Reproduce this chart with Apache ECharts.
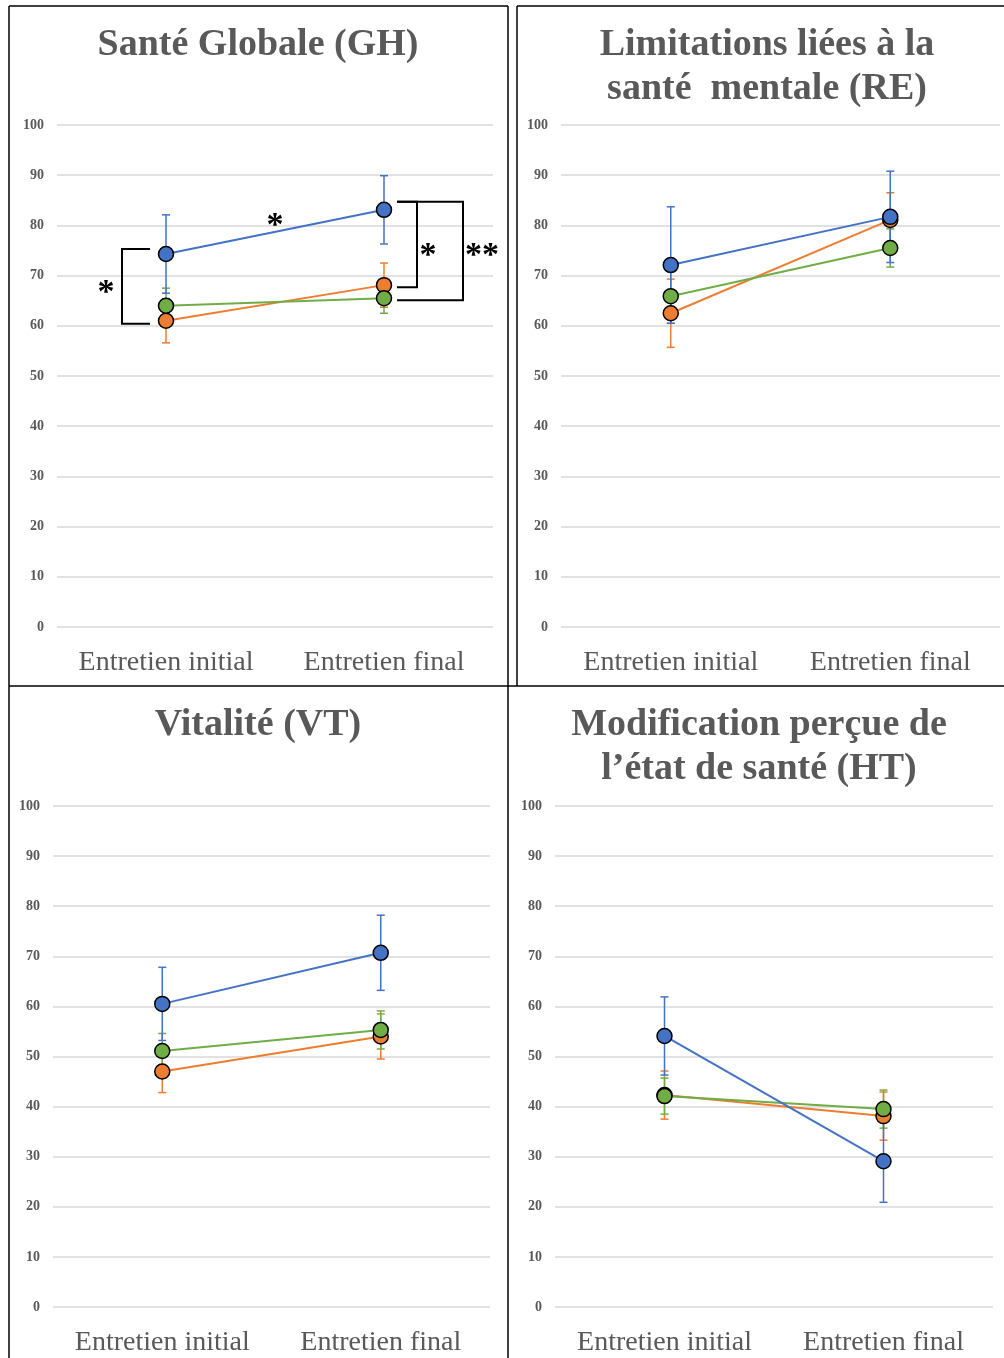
<!DOCTYPE html>
<html>
<head>
<meta charset="utf-8">
<style>
  html, body { margin: 0; padding: 0; background: #ffffff; }
  #chart { width: 1004px; height: 1358px; }
</style>
<script src="https://cdn.jsdelivr.net/npm/echarts@6/dist/echarts.min.js"></script>
</head>
<body>
<div id="chart"></div>
<script>
// ---------- DATA ----------
const categories = ['Entretien initial', 'Entretien final'];
const yTicks = [0, 10, 20, 30, 40, 50, 60, 70, 80, 90, 100];

const titles = [
  'Santé Globale (GH)',
  'Limitations liées à la\nsanté  mentale (RE)',
  'Vitalité (VT)',
  'Modification perçue de\nl\u2019état de santé (HT)'
];

// Panel 1 : GH
const ghBlue = [74.3, 83.1];   const ghBlueErr = [7.8, 6.8];
const ghOrange = [61.0, 68.1]; const ghOrangeErr = [4.4, 4.4];
const ghGreen = [64.0, 65.5];  const ghGreenErr = [3.5, 3.0];

// Panel 2 : RE
const reBlue = [72.1, 81.7];   const reBlueErr = [11.6, 9.1];
const reOrange = [62.5, 81.1]; const reOrangeErr = [6.8, 5.4];
const reGreen = [65.9, 75.5];  const reGreenErr = [5.4, 3.8];

// Panel 3 : VT
const vtBlue = [60.5, 70.7];   const vtBlueErr = [7.3, 7.5];
const vtOrange = [47.0, 54.0]; const vtOrangeErr = [4.2, 4.5];
const vtGreen = [51.1, 55.3];  const vtGreenErr = [3.5, 3.8];

// Panel 4 : HT
const htBlue = [54.1, 29.1];   const htBlueErr = [7.8, 8.2];
const htOrange = [42.3, 38.1]; const htOrangeErr = [4.8, 4.8];
const htGreen = [42.1, 39.5];  const htGreenErr = [3.6, 3.8];

// Significance brackets in panel 1 (value ranges)
const ghBracketLeft = [75.3, 60.4];        // initial: blue vs orange
const ghBracketInner = [84.7, 67.7];       // final: blue vs orange
const ghBracketOuter = [84.7, 65.1];       // final: blue vs green
const ghStarLabels = ['*', '*', '*', '**'];
const ghStarValues = [68.1, 81.5, 75.5, 75.5];

// ---------- STYLE ----------
const COLORS = { blue: '#4472C4', orange: '#ED7D31', green: '#70AD47' };
const GREY = '#595959';
const SERIF = '"Liberation Serif", "DejaVu Serif", serif';

const panels = [
  { grid: { left: 57, top: 125, width: 436, height: 502 },
    blue: [ghBlue, ghBlueErr], orange: [ghOrange, ghOrangeErr], green: [ghGreen, ghGreenErr] },
  { grid: { left: 561, top: 125, width: 439, height: 502 },
    blue: [reBlue, reBlueErr], orange: [reOrange, reOrangeErr], green: [reGreen, reGreenErr] },
  { grid: { left: 53, top: 806, width: 437, height: 501 },
    blue: [vtBlue, vtBlueErr], orange: [vtOrange, vtOrangeErr], green: [vtGreen, vtGreenErr] },
  { grid: { left: 555, top: 806, width: 438, height: 501 },
    blue: [htBlue, htBlueErr], orange: [htOrange, htOrangeErr], green: [htGreen, htGreenErr] }
];

const titleCenters = [[258, 45], [767, 45], [258, 725], [759, 725]];

const grids = [], xAxes = [], yAxes = [], series = [];

panels.forEach((p, i) => {
  grids.push(Object.assign({ containLabel: false }, p.grid));
  xAxes.push({
    type: 'category', gridIndex: i, data: categories, boundaryGap: true,
    axisLine: { show: false }, axisTick: { show: false },
    axisLabel: { color: GREY, fontFamily: SERIF, fontSize: 28, margin: 22, interval: 0 }
  });
  yAxes.push({
    type: 'value', gridIndex: i, min: yTicks[0], max: yTicks[yTicks.length - 1], interval: yTicks[1] - yTicks[0],
    axisLine: { show: false }, axisTick: { show: false },
    axisLabel: { color: GREY, fontFamily: SERIF, fontSize: 14, fontWeight: 'bold', margin: 13 },
    splitLine: { lineStyle: { color: '#d9d9d9', width: 1.5 } }
  });
  ['orange', 'green', 'blue'].forEach((key, k) => {
    const vals = p[key][0], errs = p[key][1];
    const col = COLORS[key];
    // error bars
    series.push({
      type: 'custom', xAxisIndex: i, yAxisIndex: i, z: 1 + k * 0.1, silent: true,
      data: vals.map((v, j) => [j, v, errs[j]]),
      renderItem: function (params, api) {
        const x = api.value(0), v = api.value(1), e = api.value(2);
        const top = api.coord([x, v + e]);
        const bot = api.coord([x, v - e]);
        const cap = 4;
        const ls = { stroke: col, lineWidth: 1.5 };
        return {
          type: 'group',
          children: [
            { type: 'line', shape: { x1: top[0], y1: top[1], x2: bot[0], y2: bot[1] }, style: ls },
            { type: 'line', shape: { x1: top[0] - cap, y1: top[1], x2: top[0] + cap, y2: top[1] }, style: ls },
            { type: 'line', shape: { x1: bot[0] - cap, y1: bot[1], x2: bot[0] + cap, y2: bot[1] }, style: ls }
          ]
        };
      }
    });
    // line + markers
    series.push({
      type: 'line', xAxisIndex: i, yAxisIndex: i, z: 3 + k, data: vals,
      symbol: 'circle', symbolSize: 15, showSymbol: true,
      lineStyle: { color: col, width: 2 },
      itemStyle: { color: col, borderColor: '#000', borderWidth: 1.5 },
      animation: false
    });
  });
});

// Significance annotations for panel 1
series.push({
  type: 'custom', xAxisIndex: 0, yAxisIndex: 0, z: 10, silent: true, clip: false,
  data: [[0, 0]],
  renderItem: function (params, api) {
    const ls = { stroke: '#000', lineWidth: 2, fill: null };
    const c0 = api.coord([0, 0])[0];
    const c1 = api.coord([1, 0])[0];
    const Y = v => api.coord([0, v])[1];
    const bracket = (xBar, xArm, r) => ({
      type: 'polyline',
      shape: { points: [[xArm, Y(r[0])], [xBar, Y(r[0])], [xBar, Y(r[1])], [xArm, Y(r[1])]] },
      style: ls
    });
    const star = (x, v, t) => ({
      type: 'text',
      style: { x: x, y: Y(v) + 8, text: t, align: 'center', verticalAlign: 'middle',
               font: 'bold 34px ' + SERIF, fill: '#000' }
    });
    return {
      type: 'group',
      children: [
        bracket(c0 - 44, c0 - 16, ghBracketLeft),
        bracket(c1 + 33, c1 + 13, ghBracketInner),
        bracket(c1 + 79, c1 + 13, ghBracketOuter),
        star(c0 - 60, ghStarValues[0], ghStarLabels[0]),
        star((c0 + c1) / 2, ghStarValues[1], ghStarLabels[1]),
        star(c1 + 44, ghStarValues[2], ghStarLabels[2]),
        star(c1 + 98, ghStarValues[3], ghStarLabels[3])
      ]
    };
  }
});

// Titles and panel frames
const graphic = [];
titles.forEach((t, i) => {
  graphic.push({
    type: 'text', x: titleCenters[i][0], y: titleCenters[i][1] - 22,
    style: { text: t, align: 'center', verticalAlign: 'top',
             font: 'bold 38px ' + SERIF, fill: GREY, lineHeight: 44 }
  });
});
const frame = { stroke: '#000', lineWidth: 1.5 };
const frameLines = [
  [9, 6, 508, 6], [517, 6, 1004, 6],
  [9, 6, 9, 1358], [508, 6, 508, 1358], [517, 6, 517, 686],
  [9, 686, 1004, 686]
];
frameLines.forEach(l => graphic.push({
  type: 'line', shape: { x1: l[0], y1: l[1], x2: l[2], y2: l[3] }, style: frame, z: 100
}));

const chart = echarts.init(document.getElementById('chart'), null, { renderer: 'canvas' });
chart.setOption({
  animation: false,
  backgroundColor: '#ffffff',
  grid: grids,
  xAxis: xAxes,
  yAxis: yAxes,
  series: series,
  graphic: graphic
});
</script>
</body>
</html>
